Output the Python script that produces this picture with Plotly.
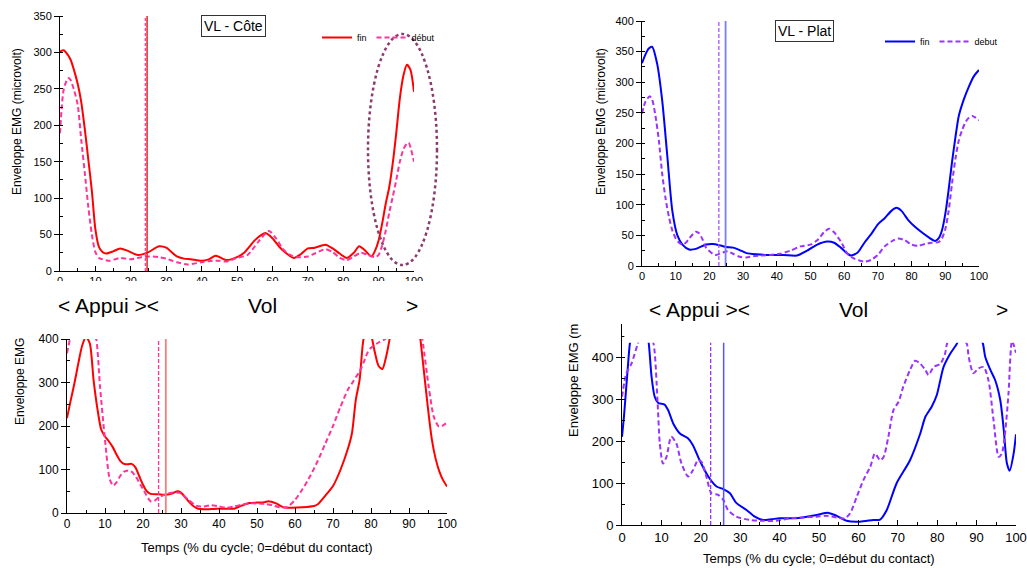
import plotly.graph_objects as go

W, H = 1027, 568
FONT = "Liberation Sans, Arial, sans-serif"
NARROW = "Liberation Sans Narrow, Arial Narrow, Liberation Sans, Arial, sans-serif"

# ---------------- data ----------------
# Panel 1 : VL - Côte (top-left)
cote_fin_x = [0, 1, 2, 3, 4, 5, 6, 7, 8, 9, 10, 11, 12, 13, 15, 17, 19, 22, 25, 28, 30, 33, 35, 37, 40, 42, 44, 47,
              50, 52, 55, 57, 58, 60, 62, 64, 66, 68, 70, 72, 75, 77, 79, 81, 83, 84.5, 86, 88, 89, 90, 91, 92, 93,
              94, 95, 96, 97, 98, 99, 100]
cote_fin_y = [301, 303, 298, 290, 275, 257, 232, 195, 153, 110, 57, 33, 26, 24, 27, 31, 28, 22, 26, 34, 32, 20, 17, 16,
              14, 16, 21, 15, 19, 25, 42, 50, 52, 45, 33, 24, 18, 23, 31, 32, 36, 31, 24, 18, 25, 34, 29, 20, 28, 42,
              65, 92, 115, 148, 190, 237, 268, 283, 276, 246]
cote_deb_x = [0, 0.5, 1, 2, 2.5, 3, 4, 5, 6, 7, 8, 9, 10, 11, 12, 14, 17, 20, 23, 25, 28, 30, 33, 36, 40, 43, 45, 47,
              50, 53, 56, 59, 61, 63, 65, 67, 70, 72, 75, 77, 79, 81, 83, 85, 87, 89, 90, 91, 92, 93, 94, 95, 96, 97,
              98, 98.5, 99, 100]
cote_deb_y = [189, 225, 248, 263, 265, 262, 248, 228, 180, 135, 88, 50, 26, 18, 16, 14, 18, 16, 19, 20, 19, 17, 12, 9,
              12, 14, 14, 13, 18, 22, 40, 55, 45, 30, 22, 19, 20, 24, 30, 26, 18, 15, 20, 25, 22, 19, 22, 35, 55, 80,
              102, 125, 150, 167, 175, 176, 170, 150]
cote_split_fin = 24.6
cote_split_deb = 24.1

# Panel 2 : VL - Plat (top-right)
plat_fin_x = [0, 1, 2, 3, 4.5, 6, 7.5, 9, 10.5, 12, 14, 16, 19, 21, 23, 25, 27, 29, 31, 34, 38, 42, 46, 49, 52, 55, 57,
              59, 61, 62, 64, 66, 68, 70, 72, 74, 75.5, 77, 79, 81, 83, 85, 87, 88, 89, 90, 91, 92, 93, 94, 95.5, 97,
              98.5, 100]
plat_fin_y = [331, 345, 355, 358, 330, 270, 180, 90, 50, 35, 27, 28, 35, 36, 34, 31, 30, 26, 21, 19, 18, 18, 17, 25, 35,
              40, 38, 30, 20, 17, 22, 38, 52, 68, 78, 90, 95, 90, 75, 64, 55, 47, 41, 45, 58, 85, 125, 170, 210, 245,
              272, 293, 310, 320]
plat_deb_x = [0, 1, 2.3, 3, 4, 5, 6, 7, 8, 9, 10, 11, 12, 13, 14, 16, 17, 18, 19, 21, 22, 24, 25.5, 27, 29, 31, 33, 35,
              38, 41, 44, 47, 50, 52, 54, 55.5, 57, 59, 61, 63, 66, 68, 70, 72, 74, 76, 78, 80, 82, 84, 86, 88, 89, 90,
              91, 92, 93, 94, 95, 96, 97, 98, 99, 100]
plat_deb_y = [249, 268, 277, 272, 245, 205, 150, 110, 80, 58, 45, 38, 35, 38, 45, 56, 53, 43, 30, 20, 18, 22, 24, 20,
              15, 14, 16, 17, 18, 20, 25, 32, 35, 42, 55, 61, 55, 40, 20, 12, 7, 10, 18, 32, 40, 45, 42, 35, 33, 36,
              38, 39, 45, 60, 90, 135, 175, 205, 222, 235, 242, 245, 242, 238]
plat_split_fin = 24.8
plat_split_deb = 22.8

# Panel 3 : bottom-left
b1_fin_x = [0, 1, 2, 3, 4, 5, 6, 7, 8, 9, 10, 11, 12, 13, 14, 15, 16, 17, 18, 19, 20, 21, 22, 24, 26, 28, 29, 30, 31,
            32, 33, 34, 35, 38, 41, 44, 46, 48, 50, 52, 53, 55, 57, 59, 62, 65, 66, 68, 70, 72, 74, 75, 76, 77, 78,
            79, 80, 81, 82, 83, 84, 85, 86, 88, 90, 92, 93, 94, 95, 96, 97, 98, 99, 100]
b1_fin_y = [218, 260, 300, 345, 385, 405, 390, 305, 240, 192, 176, 165, 152, 135, 120, 113, 112, 113, 105, 85, 65, 50,
            44, 43, 42, 46, 50, 47, 37, 27, 18, 12, 9, 9, 10, 10, 17, 23, 24, 25, 27, 22, 13, 12, 13, 16, 20, 40, 62,
            100, 150, 184, 260, 306, 398, 425, 410, 370, 338, 331, 360, 405, 460, 530, 550, 480, 400, 320, 240, 170,
            125, 95, 75, 61]
b1_deb_x = [0, 0.8, 2, 4, 6, 7.7, 8.7, 10, 11.3, 12.2, 13, 14, 15, 16.2, 17, 18, 20, 22, 23, 24, 26, 28, 30, 32, 34,
            36, 38, 40, 42, 44, 46, 48, 50, 52, 54, 56, 58, 60, 62, 64, 66, 68, 70, 72, 74, 75, 76, 77, 78, 79, 80,
            82, 84, 86, 88, 90, 92, 93.5, 95.2, 96.5, 97.8, 98.7, 100]
b1_deb_y = [367, 400, 430, 470, 455, 400, 290, 168, 76, 63, 70, 85, 95, 98, 95, 85, 55, 27, 28, 35, 43, 47, 45, 30, 17,
            15, 18, 15, 12, 15, 19, 22, 22, 21, 18, 13, 14, 30, 55, 85, 120, 160, 200, 245, 285, 298, 312, 325, 345,
            367, 380, 392, 402, 450, 500, 520, 470, 400, 290, 222, 199, 200, 208]
b1_split_fin = 26.0
b1_split_deb = 24.1

# Panel 4 : bottom-right
b2_fin_x = [0, 0.5, 1, 1.5, 2, 3, 4.5, 6, 6.8, 7.5, 8.3, 9.2, 10.8, 11.7, 13, 14.7, 16.8, 18, 19.7, 21.9, 24, 25.7,
            27.4, 29, 31.6, 33.7, 35.8, 38, 40, 43.5, 46.9, 49.4, 52.4, 54.5, 57, 60.4, 63.8, 65.5, 67.2, 69.7, 73.1,
            75.7, 77, 78.6, 79.9, 81.6, 83.3, 85, 86, 88, 90, 91.6, 92.2, 93.5, 94.7, 96, 96.9, 97.7, 98.4, 99.4, 100]
b2_fin_y = [211, 260, 320, 380, 434, 480, 520, 480, 434, 355, 307, 292, 288, 275, 243, 219, 207, 191, 155, 116, 92, 86,
            76, 53, 36, 20, 12, 14, 16, 16, 20, 24, 29, 22, 10, 8, 12, 13, 36, 100, 155, 219, 259, 283, 311, 378, 410,
            434, 460, 480, 470, 434, 402, 371, 347, 299, 227, 147, 130, 171, 217]
b2_deb_x = [0, 1.1, 2.4, 4, 5, 6.5, 8, 9, 9.6, 10.4, 11.3, 12.5, 13.8, 15.1, 16.8, 18, 19.3, 20.2, 21.4, 22.7, 24.4,
            25.7, 26.9, 29, 32.5, 35.8, 39.2, 42.6, 46, 49.4, 51.9, 54.5, 56.6, 57.9, 59.6, 61.3, 63, 64.2, 65.5,
            66.4, 67.6, 68.9, 70.2, 71.4, 73.1, 74.4, 75.7, 77, 77.8, 79.1, 80.8, 82, 82.5, 84, 86, 87.5, 88, 89.2,
            90.5, 91.8, 93, 94.3, 95.6, 96.4, 97.3, 98.1, 99, 100]
b2_deb_y = [307, 363, 386, 434, 460, 470, 434, 299, 195, 147, 163, 211, 195, 147, 116, 131, 155, 151, 116, 76, 72, 60,
            36, 20, 12, 10, 10, 16, 18, 20, 22, 18, 16, 28, 68, 108, 139, 171, 155, 163, 211, 275, 295, 331, 371,
            393, 386, 371, 359, 378, 386, 410, 434, 460, 450, 434, 402, 363, 375, 378, 347, 251, 163, 171, 227, 315,
            440, 412]
b2_split_fin = 25.8
b2_split_deb = 22.5

# y ranges
P1_YMAX, P2_YMAX, P3_YMAX, P4_YMAX = 350, 400, 400, 481
P4_VISIBLE = 436

RED = "#FF0000"
PINK = "#FF3399"
BLUE = "#0000FF"
VIOLET = "#9933FF"
DASH = "5px,3px"


def px_x(p):
    return p / W


def px_y(p):
    return 1 - p / H


fig = go.Figure()


def curve(x, y, color, dash, name, xa, ya, legend=None):
    fig.add_trace(go.Scatter(
        x=x, y=y, mode="lines", name=name,
        line=dict(color=color, width=2, dash=dash, shape="spline", smoothing=0.7),
        xaxis=xa, yaxis=ya, showlegend=legend is not None,
        legend=legend if legend else "legend", hoverinfo="skip"))


def vline(xv, ytop, color, dash, xa, ya, width=1.5):
    fig.add_trace(go.Scatter(
        x=[xv, xv], y=[0, ytop], mode="lines",
        line=dict(color=color, width=width, dash=dash),
        xaxis=xa, yaxis=ya, showlegend=False, hoverinfo="skip"))


# panel 1
curve(cote_fin_x, cote_fin_y, RED, "solid", "fin", "x", "y", "legend")
curve(cote_deb_x, cote_deb_y, PINK, DASH, "début", "x", "y", "legend")
vline(cote_split_deb, P1_YMAX, PINK, "3px,2px", "x", "y", 1.2)
vline(cote_split_fin, P1_YMAX, "#E8202A", "solid", "x", "y", 1.5)
# panel 2
curve(plat_fin_x, plat_fin_y, BLUE, "solid", "fin", "x2", "y2", "legend2")
curve(plat_deb_x, plat_deb_y, VIOLET, DASH, "debut", "x2", "y2", "legend2")
vline(plat_split_deb, P2_YMAX, "#A855FF", "4px,2px", "x2", "y2", 1.3)
vline(plat_split_fin, P2_YMAX, "#7B7BFF", "solid", "x2", "y2", 1.8)
# panel 3
curve(b1_fin_x, b1_fin_y, RED, "solid", "fin", "x3", "y3")
curve(b1_deb_x, b1_deb_y, PINK, DASH, "début", "x3", "y3")
vline(b1_split_deb, P3_YMAX, PINK, "4px,2px", "x3", "y3", 1.3)
vline(b1_split_fin, P3_YMAX, "#F08080", "solid", "x3", "y3", 1.8)
# panel 4
curve(b2_fin_x, b2_fin_y, BLUE, "solid", "fin", "x4", "y4")
curve(b2_deb_x, b2_deb_y, VIOLET, DASH, "debut", "x4", "y4")
vline(b2_split_deb, P4_YMAX, VIOLET, "4px,2px", "x4", "y4", 1.3)
vline(b2_split_fin, P4_YMAX, "#5555FF", "solid", "x4", "y4", 1.5)


def xaxis(domain, anchor, size=11):
    return dict(domain=domain, anchor=anchor, range=[0, 100], dtick=10, tick0=0,
                showline=True, linecolor="black", linewidth=1, mirror=False, automargin=False,
                ticks="inside", ticklen=5, tickwidth=1, tickcolor="black",
                minor=dict(dtick=5, tick0=0, ticks="inside", ticklen=3, tickcolor="black", tickwidth=1),
                showgrid=False, zeroline=False, fixedrange=True,
                tickfont=dict(family=FONT, size=size, color="black"))


def yaxis(domain, anchor, ymax, dtick, mdtick, size=11):
    return dict(domain=domain, anchor=anchor, range=[0, ymax], dtick=dtick, tick0=0,
                showline=True, linecolor="black", linewidth=1, mirror=False, automargin=False,
                ticks="outside", ticklen=5, tickwidth=1, tickcolor="black",
                minor=dict(dtick=mdtick, tick0=0, ticks="inside", ticklen=3, tickcolor="black", tickwidth=1),
                showgrid=False, zeroline=False, fixedrange=True,
                tickfont=dict(family=FONT, size=size, color="black"))


layout = dict(
    template="none",
    width=W, height=H, margin=dict(l=0, r=0, t=0, b=0, autoexpand=False),
    paper_bgcolor="white", plot_bgcolor="white",
    font=dict(family=FONT, color="black"),
    xaxis=xaxis([px_x(60), px_x(414)], "y", 11),
    yaxis=yaxis([px_y(271), px_y(16)], "x", P1_YMAX, 50, 25, 11),
    xaxis2=xaxis([px_x(642), px_x(979)], "y2", 11),
    yaxis2=yaxis([px_y(266), px_y(21)], "x2", P2_YMAX, 50, 25, 11),
    xaxis3=xaxis([px_x(67), px_x(447)], "y3", 12),
    yaxis3=yaxis([px_y(513), px_y(339)], "x3", P3_YMAX, 100, 50, 12),
    xaxis4=xaxis([px_x(622), px_x(1016)], "y4", 13),
    yaxis4=yaxis([px_y(525), px_y(324)], "x4", P4_YMAX, 100, 50, 13),
    legend=dict(x=px_x(317), y=px_y(23), xanchor="left", yanchor="top", orientation="h",
                font=dict(family=FONT, size=9, color="black"), bgcolor="rgba(0,0,0,0)",
                itemwidth=30, tracegroupgap=0),
    legend2=dict(x=px_x(880), y=px_y(27), xanchor="left", yanchor="top", orientation="h",
                 font=dict(family=FONT, size=9, color="black"), bgcolor="rgba(0,0,0,0)",
                 itemwidth=30, tracegroupgap=0),
)
fig.update_layout(**layout)

# decorations
shapes = [
    # dotted ellipse around the final peak
    dict(type="circle", xref="paper", yref="paper",
         x0=px_x(368), x1=px_x(437), y0=px_y(265), y1=px_y(34),
         line=dict(color="#8B3A6B", width=2.5, dash="dot"), layer="above"),
    # cropped area at bottom of top-left panel
    dict(type="rect", xref="paper", yref="paper",
         x0=px_x(30), x1=px_x(440), y0=px_y(293), y1=px_y(281),
         fillcolor="white", line=dict(width=0), layer="above"),
    # masked top of bottom-right panel
    dict(type="rect", xref="x4", yref="y4",
         x0=0.6, x1=101, y0=P4_VISIBLE, y1=P4_YMAX + 5,
         fillcolor="white", line=dict(width=0), layer="above"),
]
fig.update_layout(shapes=shapes)


def ann(text, x, y, size, angle=0, family=FONT, **kw):
    d = dict(text=text, x=px_x(x), y=px_y(y), xref="paper", yref="paper",
             showarrow=False, textangle=angle, xanchor="center", yanchor="middle",
             font=dict(family=family, size=size, color="black"))
    d.update(kw)
    return d


annotations = [
    ann("VL - Côte", 233, 26, 14, bordercolor="#333333", borderwidth=1, borderpad=2, bgcolor="white"),
    ann("VL - Plat", 804, 31, 14, bordercolor="#333333", borderwidth=1, borderpad=2, bgcolor="white"),
    ann("Enveloppe EMG (microvolt)", 17, 122, 12, -90),
    ann("Enveloppe EMG (microvolt)", 601, 122, 12, -90),
    ann("Enveloppe EMG", 20, 382, 12, -90),
    ann("Enveloppe EMG (m", 573, 381, 13, -90),
    ann("Temps (% du cycle; 0=début du contact)", 257, 547, 13),
    ann("Temps (% du cycle; 0=début du contact)", 819, 558, 13),
    ann("&lt; Appui &gt;&lt;", 108, 305, 21, family=NARROW),
    ann("Vol", 262, 305, 21, family=NARROW),
    ann("&gt;", 412, 305, 21, family=NARROW),
    ann("&lt; Appui &gt;&lt;", 699, 309, 21, family=NARROW),
    ann("Vol", 853, 309, 21, family=NARROW),
    ann("&gt;", 1002, 309, 21, family=NARROW),
]
fig.update_layout(annotations=annotations)

fig.write_html("out.html",
               config={"displayModeBar": False, "staticPlot": True},
               post_script="document.body.style.margin='0';document.body.style.padding='0';"
                           "document.body.style.overflow='hidden';")
